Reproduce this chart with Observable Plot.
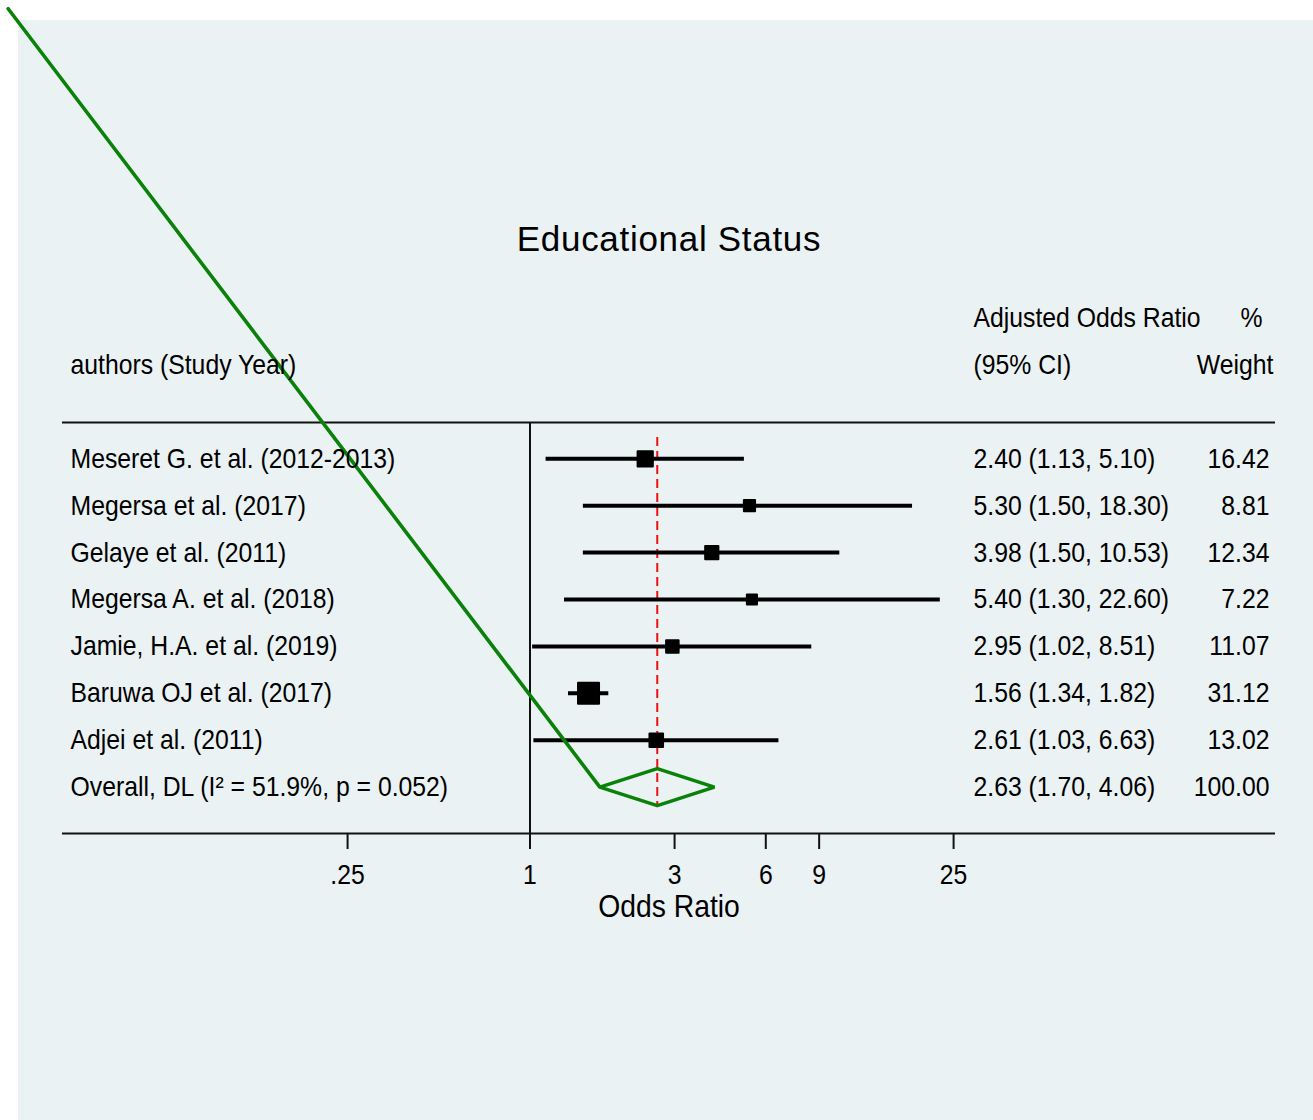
<!DOCTYPE html>
<html>
<head>
<meta charset="utf-8">
<script src="https://cdn.jsdelivr.net/npm/d3@7"></script>
<script src="https://cdn.jsdelivr.net/npm/@observablehq/plot@0.6"></script>
<style>
  html, body { margin: 0; padding: 0; background: #ffffff; }
  #bg { position: absolute; left: 18px; top: 20px; width: 1295px; height: 1100px; background: #eaf2f3; }
  #chart { position: absolute; left: 0; top: 0; }
</style>
</head>
<body>
<div id="bg"></div>
<div id="chart"></div>
<script>
// ---- data ----
const authors = [
  "Meseret G. et al. (2012-2013)",
  "Megersa et al. (2017)",
  "Gelaye et al. (2011)",
  "Megersa A. et al. (2018)",
  "Jamie, H.A. et al. (2019)",
  "Baruwa OJ et al. (2017)",
  "Adjei et al. (2011)"
];
const oddsRatio = [2.40, 5.30, 3.98, 5.40, 2.95, 1.56, 2.61];
const lowerCI   = [1.13, 1.50, 1.50, 1.30, 1.02, 1.34, 1.03];
const upperCI   = [5.10, 18.30, 10.53, 22.60, 8.51, 1.82, 6.63];
const weights   = [16.42, 8.81, 12.34, 7.22, 11.07, 31.12, 13.02];

const overallLabel = "Overall, DL (I\u00B2 = 51.9%, p = 0.052)";
const overallOR = 2.63, overallLo = 1.70, overallHi = 4.06, overallWeight = 100.00;

const titleText = "Educational Status";
const headerLeft = "authors (Study Year)";
const headerCI = ["Adjusted Odds Ratio", "(95% CI)"];
const headerW = ["%", "Weight"];
const xTicks = [0.25, 1, 3, 6, 9, 25];
const xTickLabels = [".25", "1", "3", "6", "9", "25"];
const xLabel = "Odds Ratio";
// stray green segment visible in the reference (from top-left corner to the diamond)
const strayStart = {or: 0.01896, row: -9.595};

// ---- build tables ----
const rows = authors.map((a, i) => ({
  row: i, label: a, or: oddsRatio[i], lo: lowerCI[i], hi: upperCI[i], w: weights[i],
  ci: `${oddsRatio[i].toFixed(2)} (${lowerCI[i].toFixed(2)}, ${upperCI[i].toFixed(2)})`,
  wt: weights[i].toFixed(2)
}));
const overallRow = authors.length;
const textRows = rows.concat([{
  row: overallRow, label: overallLabel,
  ci: `${overallOR.toFixed(2)} (${overallLo.toFixed(2)}, ${overallHi.toFixed(2)})`,
  wt: overallWeight.toFixed(2)
}]);
const tickData = xTicks.map((v, i) => ({v, label: xTickLabels[i]}));
const dh = 0.394; // diamond half height (row units)
const greenPath = [
  strayStart,
  {or: overallLo, row: overallRow},
  {or: overallOR, row: overallRow - dh},
  {or: overallHi, row: overallRow},
  {or: overallOR, row: overallRow + dh},
  {or: overallLo, row: overallRow}
];

const FONT = '"Liberation Sans",Arial,Helvetica,sans-serif';
const sepRow = -0.775, axisRow = 7.989, tickLen = 0.341;

const chart = Plot.plot({
  width: 1313,
  height: 1120,
  marginLeft: 62,
  marginRight: 38,
  marginTop: 20,
  marginBottom: 287,
  style: {background: "transparent", fontFamily: FONT, fontSize: "28px", color: "black"},
  x: {type: "log", domain: [0.02865, 288.6], axis: null},
  y: {domain: [-9.345, axisRow], reverse: true, axis: null},
  r: {type: "sqrt", domain: [0, 31.12], range: [0, 11.85]},
  marks: [
    Plot.ruleY([sepRow], {stroke: "#111", strokeWidth: 2}),
    Plot.ruleY([axisRow], {stroke: "#111", strokeWidth: 2.2}),
    Plot.ruleX([1], {y1: sepRow, y2: axisRow, stroke: "#111", strokeWidth: 2}),
    Plot.ruleX(xTicks, {y1: axisRow, y2: axisRow + tickLen, stroke: "#111", strokeWidth: 2}),
    Plot.ruleX([overallOR], {y1: -0.455, y2: 7.43, stroke: "#ee1111", strokeWidth: 2, strokeDasharray: "9,5"}),
    Plot.ruleY(rows, {y: "row", x1: "lo", x2: "hi", stroke: "black", strokeWidth: 4}),
    Plot.dot(rows, {x: "or", y: "row", r: "w", symbol: "square", fill: "black", stroke: "black", strokeWidth: 2, strokeLinejoin: "round"}),
    Plot.line(greenPath, {x: "or", y: "row", stroke: "#0a820a", strokeWidth: 3.6, strokeLinejoin: "miter", strokeLinecap: "round"}),
    // axis tick labels
    Plot.text(tickData, {x: "v", text: "label", frameAnchor: "bottom", dy: 50, fontSize: 28, fill: "black"}),
    // text columns
    Plot.text(textRows, {y: "row", text: "label", frameAnchor: "left", dx: 8, textAnchor: "start", fontSize: 28, fill: "black"}),
    Plot.text(textRows, {y: "row", text: "ci", frameAnchor: "left", dx: 911, textAnchor: "start", fontSize: 28, fill: "black"}),
    Plot.text(textRows, {y: "row", text: "wt", frameAnchor: "right", dx: -6, textAnchor: "end", fontSize: 28, fill: "black"}),
    // headers
    Plot.text([{row: -2, t: headerLeft}], {y: "row", text: "t", frameAnchor: "left", dx: 8, textAnchor: "start", fontSize: 28, fill: "black"}),
    Plot.text([{row: -3, t: headerCI[0]}, {row: -2, t: headerCI[1]}], {y: "row", text: "t", frameAnchor: "left", dx: 911, textAnchor: "start", fontSize: 28, fill: "black"}),
    Plot.text([{row: -3, t: headerW[0]}], {y: "row", text: "t", frameAnchor: "right", dx: -13, textAnchor: "end", fontSize: 28, fill: "black"}),
    Plot.text([{row: -2, t: headerW[1]}], {y: "row", text: "t", frameAnchor: "right", dx: -2, textAnchor: "end", fontSize: 28, fill: "black"}),
    // title and axis label
    Plot.text([{row: -4.66, t: titleText}], {y: "row", text: "t", fontSize: 35, fill: "black"}),
    Plot.text([{row: 9.546, t: xLabel}], {y: "row", text: "t", fontSize: 32, fill: "black"})
  ]
});

// condense text horizontally (narrow Helvetica look of the reference)
d3.select(chart).selectAll("text").each(function() {
  if (this.textContent === titleText) {
    this.setAttribute("letter-spacing", "0.7px");
    return;
  }
  const t = this.getAttribute("transform");
  if (t) {
    this.setAttribute("transform", t + " scale(0.885,1)");
  } else {
    const x = +this.getAttribute("x") || 0, y = +this.getAttribute("y") || 0;
    this.removeAttribute("x"); this.removeAttribute("y");
    this.setAttribute("transform", `translate(${x},${y}) scale(0.885,1)`);
  }
});

document.getElementById("chart").appendChild(chart);
</script>
</body>
</html>
